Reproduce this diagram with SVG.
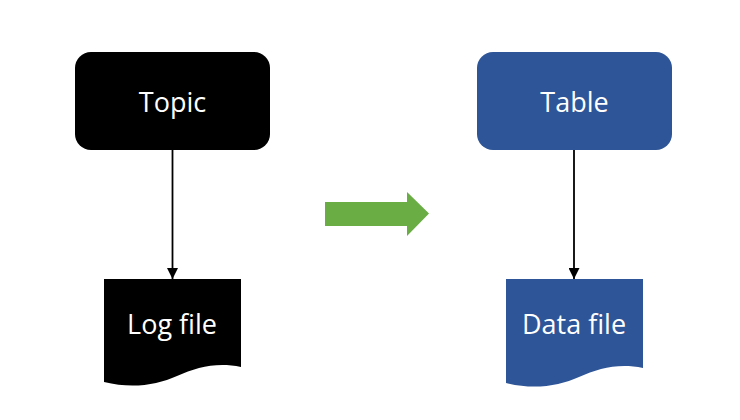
<svg xmlns="http://www.w3.org/2000/svg" width="740" height="420" viewBox="0 0 740 420">
<defs>
<style>
.lbl{font-family:"Open Sans","Liberation Sans",sans-serif;font-size:27px;fill:#ffffff;text-anchor:middle}
.conn{stroke:#000;stroke-width:1.8;fill:none}
</style>
<marker id="ah" viewBox="0 0 10 10" refX="10" refY="5" markerWidth="11" markerHeight="11" markerUnits="userSpaceOnUse" orient="auto">
<path d="M0,0 L10,5 L0,10 Z" fill="#000"/>
</marker>
</defs>
<rect width="740" height="420" fill="#ffffff"/>
<g id="connectors">
<line class="conn" x1="172.5" y1="150" x2="172.5" y2="279" marker-end="url(#ah)"/>
<line class="conn" x1="574" y1="150" x2="574" y2="279" marker-end="url(#ah)"/>
</g>
<g id="topic">
<rect x="75" y="52" width="195" height="98" rx="16" fill="#000000"/>
<text class="lbl" x="172.5" y="112">Topic</text>
</g>
<g id="logfile">
<path d="M104,279 H241 V367 C217,362 197,367 177,376 C157,385 132,389 104,382 Z" fill="#000000"/>
<text class="lbl" x="172" y="334">Log file</text>
</g>
<g id="table">
<rect x="477" y="52" width="195" height="98" rx="16" fill="#2E5597"/>
<text class="lbl" x="574.5" y="112">Table</text>
</g>
<g id="datafile">
<path d="M506,279 H643 V368 C619,363 599,368 579,377 C559,386 534,390 506,383 Z" fill="#2E5597"/>
<text class="lbl" x="574" y="334">Data file</text>
</g>
<g id="transform-arrow">
<path d="M325,202 H407 V192 L429,213.5 L407,236 V226 H325 Z" fill="#6AAD45"/>
</g>
</svg>
